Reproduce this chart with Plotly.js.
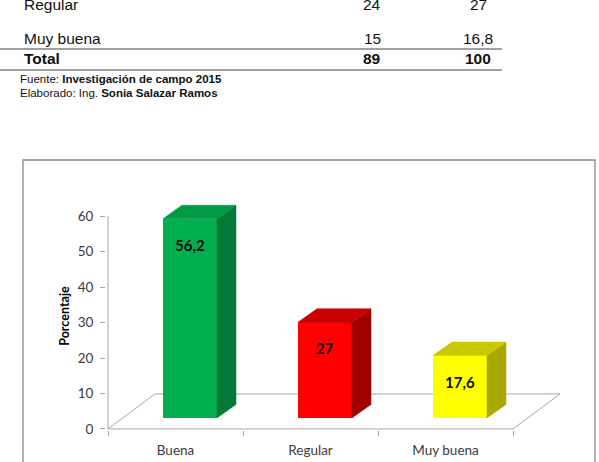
<!DOCTYPE html>
<html><head><meta charset="utf-8">
<script src="https://cdn.plot.ly/plotly-3.0.1.min.js"></script>
<style>html,body{margin:0;padding:0;background:#fff}#chart{width:599px;height:462px}</style>
</head><body><div id="chart"></div>
<script>
// ---- data ----
const categories = ['Buena', 'Regular', 'Muy buena'];
const percentages = [56.2, 27, 17.6];
const valueLabels = ['56,2', '27', '17,6'];
const yTicks = [0, 10, 20, 30, 40, 50, 60];
const tableRows = ['Regular', 'Muy buena'];
const tableFreq = ['24', '15'];
const tablePct = ['27', '16,8'];
const totalRow = ['Total', '89', '100'];
const sourceText = 'Fuente: <b>Investigación de campo 2015</b>';
const authorText = 'Elaborado: Ing. <b>Sonia Salazar Ramos</b>';

// ---- layout geometry ----
const W = 599, H = 462, L = 106, R = 32, T = 202, B = 32;
const PW = W - L - R, PH = H - T - B;
const px = x => (x - L) / PW;
const py = y => (H - B - y) / PH;
const XR = [-0.515, 2.9], YR = [-0.3, 64];
// 3D projection offsets (data units)
const FLOOR_DX = 0.348, FLOOR_DY = 9.87;
const PLANE_DX = 0.107, PLANE_DY = 3.1;
const DEPTH_DX = 0.141, DEPTH_DY = 3.8;
const BAR_W = 0.4;

const frontC = ['#00b050', '#ff0000', '#ffff00'];
const topC = ['#009a45', '#c80000', '#c8c800'];
const sideC = ['#007a36', '#a00000', '#a8a800'];
const xs = categories.map((c, i) => i);
const barX = xs.map(i => i + PLANE_DX);

const traces = [];
traces.push({
  type: 'bar', x: barX, y: percentages, base: PLANE_DY, width: BAR_W,
  marker: {color: frontC, line: {width: 0}}, hoverinfo: 'skip', showlegend: false
});
percentages.forEach((v, i) => {
  const x0 = barX[i] - BAR_W / 2, x1 = barX[i] + BAR_W / 2;
  const yb = PLANE_DY, yt = PLANE_DY + v;
  traces.push({
    type: 'scatter', mode: 'lines', fill: 'toself', fillcolor: sideC[i],
    line: {color: sideC[i], width: 0.5}, hoverinfo: 'skip', showlegend: false,
    x: [x1, x1 + DEPTH_DX, x1 + DEPTH_DX, x1, x1],
    y: [yb, yb + DEPTH_DY, yt + DEPTH_DY, yt, yb]
  });
  traces.push({
    type: 'scatter', mode: 'lines', fill: 'toself', fillcolor: topC[i],
    line: {color: topC[i], width: 0.5}, hoverinfo: 'skip', showlegend: false,
    x: [x0, x1, x1 + DEPTH_DX, x0 + DEPTH_DX, x0],
    y: [yt, yt, yt + DEPTH_DY, yt + DEPTH_DY, yt]
  });
});
traces.push({type: 'scatter', x: [null], y: [null], xaxis: 'x2', yaxis: 'y', hoverinfo: 'skip', showlegend: false});

const axisGray = '#a6a6a6';
const xa = -0.5, xb = categories.length - 0.5;
const shapes = [
  {type: 'path', xref: 'x', yref: 'y', layer: 'below',
   path: `M ${xa},0 L ${xb},0 L ${xb + FLOOR_DX},${FLOOR_DY} L ${xa + FLOOR_DX},${FLOOR_DY} Z`,
   line: {color: axisGray, width: 1}},
  {type: 'line', xref: 'x', yref: 'y', layer: 'below', x0: xa, x1: xa, y0: 0, y1: yTicks[yTicks.length - 1],
   line: {color: axisGray, width: 1}},
  {type: 'rect', xref: 'paper', yref: 'paper', x0: px(23), x1: px(595), y0: py(475), y1: py(160),
   line: {color: '#888888', width: 1.3}},
  {type: 'line', xref: 'paper', yref: 'paper', x0: px(0), x1: px(502), y0: py(49), y1: py(49),
   line: {color: '#808080', width: 1.5}},
  {type: 'line', xref: 'paper', yref: 'paper', x0: px(0), x1: px(502), y0: py(70), y1: py(70),
   line: {color: '#808080', width: 1.5}}
];

const tf = {family: 'Liberation Sans, Arial, sans-serif', size: 15.5, color: '#111'};
const ann = [];
percentages.forEach((v, i) => {
  ann.push({x: barX[i], y: PLANE_DY + v, xref: 'x', yref: 'y', yshift: -26, showarrow: false,
    text: '<b>' + valueLabels[i] + '</b>', font: {family: 'Lato, sans-serif', size: 15, color: '#0d0d0d'}});
});
const rowY = [4.2, 38.3];
tableRows.forEach((r, i) => {
  ann.push({x: px(22), y: py(rowY[i]), xref: 'paper', yref: 'paper', xanchor: 'left', yanchor: 'middle', showarrow: false, text: r, font: tf});
  ann.push({x: px(372), y: py(rowY[i]), xref: 'paper', yref: 'paper', xanchor: 'center', yanchor: 'middle', showarrow: false, text: tableFreq[i], font: tf});
  ann.push({x: px(478), y: py(rowY[i]), xref: 'paper', yref: 'paper', xanchor: 'center', yanchor: 'middle', showarrow: false, text: tablePct[i], font: tf});
});
const totX = [[22, 'left'], [372, 'center'], [478, 'center']];
totalRow.forEach((t, i) => {
  ann.push({x: px(totX[i][0]), y: py(58.8), xref: 'paper', yref: 'paper', xanchor: totX[i][1], yanchor: 'middle', showarrow: false, text: '<b>' + t + '</b>', font: tf});
});
const ff = {family: 'Liberation Sans, Arial, sans-serif', size: 11.5, color: '#111'};
ann.push({x: px(18), y: py(79), xref: 'paper', yref: 'paper', xanchor: 'left', yanchor: 'middle', showarrow: false, text: sourceText, font: ff});
ann.push({x: px(18), y: py(93.3), xref: 'paper', yref: 'paper', xanchor: 'left', yanchor: 'middle', showarrow: false, text: authorText, font: ff});

const tickFont = {family: 'Lato, sans-serif', size: 13.5, color: '#3a3a3a'};
const layout = {
  width: W, height: H, margin: {l: L, r: R, t: T, b: B},
  paper_bgcolor: '#ffffff', plot_bgcolor: 'rgba(0,0,0,0)', showlegend: false,
  bargap: 0,
  xaxis: {range: XR, tickvals: xs, ticktext: categories, ticks: '', showgrid: false, zeroline: false,
          showline: false, tickfont: tickFont, ticklabelstandoff: 10, fixedrange: true},
  xaxis2: {range: XR, overlaying: 'x', anchor: 'y', side: 'bottom', tickvals: [-0.5, 0.5, 1.5, 2.5],
           ticks: 'outside', ticklen: 5, tickcolor: axisGray, showticklabels: false, showgrid: false,
           zeroline: false, showline: false, fixedrange: true},
  yaxis: {range: YR, tickvals: yTicks, ticks: 'outside', ticklen: 5, tickcolor: axisGray, showgrid: false,
          zeroline: false, showline: false, tickfont: tickFont, ticklabelstandoff: 4, fixedrange: true,
          title: {text: 'Porcentaje', font: {family: 'Lato, sans-serif', size: 12.5, color: '#000', weight: 'bold'}, standoff: 5}},
  shapes: shapes, annotations: ann
};
Plotly.newPlot('chart', traces, layout, {displayModeBar: false, staticPlot: true});
</script>
</body></html>
